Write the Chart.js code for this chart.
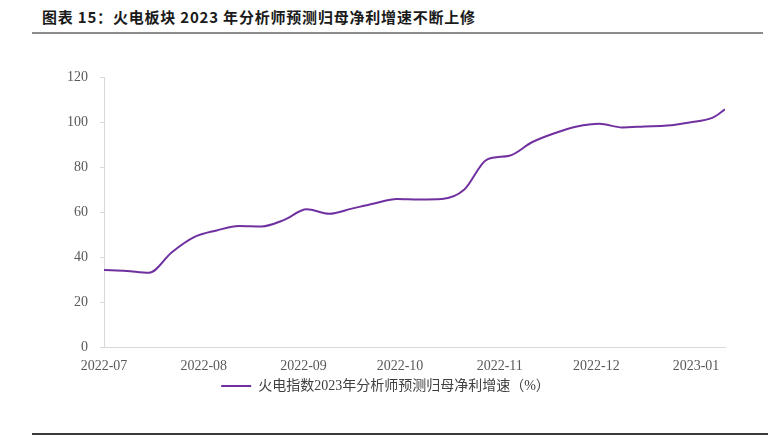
<!DOCTYPE html>
<html>
<head>
<meta charset="utf-8">
<script src="https://cdn.jsdelivr.net/npm/chart.js@4.4.0/dist/chart.umd.min.js"></script>
<style>
  html, body { margin: 0; padding: 0; background: #ffffff; }
  #wrap { position: relative; width: 779px; height: 438px; overflow: hidden; }
  #title { position: absolute; left: 42px; top: 7px; font-family: "Noto Sans CJK SC", sans-serif; font-weight: bold; font-size: 15px; letter-spacing: 0.8px; color: #1a1a1a; white-space: nowrap; line-height: 20px; }
  #rule1 { position: absolute; left: 32px; top: 32px; width: 731px; height: 2px; background: #8c8c8c; }
  #rule2 { position: absolute; left: 32px; top: 433px; width: 736px; height: 2px; background: #3a3a3a; }
  canvas { position: absolute; left: 0; top: 0; }
</style>
</head>
<body>
<div id="wrap">
  <div id="title">图表 15：火电板块 2023 年分析师预测归母净利增速不断上修</div>
  <div id="rule1"></div>
  <canvas id="c" width="779" height="438"></canvas>
  <div id="rule2"></div>
</div>
<script>
// ---- data ----
const seriesName = "火电指数2023年分析师预测归母净利增速（%）";
const dates = [
  "2022-07-01","2022-07-08","2022-07-15","2022-07-22","2022-07-29","2022-08-05",
  "2022-08-12","2022-08-19","2022-08-26","2022-09-02","2022-09-09","2022-09-16",
  "2022-09-23","2022-09-30","2022-10-07","2022-10-14","2022-10-21","2022-10-28",
  "2022-11-04","2022-11-11","2022-11-18","2022-11-25","2022-12-02","2022-12-09",
  "2022-12-16","2022-12-23","2022-12-30","2023-01-06","2023-01-10"
];
const values = [
  34.2, 33.8, 33.0, 42.0, 48.8, 51.8,
  53.8, 53.6, 56.5, 61.2, 59.2, 61.5,
  63.8, 65.8, 65.6, 65.8, 70.0, 83.3,
  85.0, 91.0, 95.0, 98.0, 99.2, 97.6,
  98.0, 98.4, 99.8, 101.8, 105.6
];
const monthTicks = ["2022-07","2022-08","2022-09","2022-10","2022-11","2022-12","2023-01"];
const yTicks = [0, 20, 40, 60, 80, 100, 120];

// ---- helpers ----
const DAY = 86400000;
function dayOffset(s) {
  const p = s.split("-").map(Number);
  const base = Date.UTC(2022, 6, 1);
  return (Date.UTC(p[0], p[1] - 1, p[2] || 1) - base) / DAY;
}
const points = dates.map((d, i) => ({ x: dayOffset(d), y: values[i] }));
const tickPos = monthTicks.map(m => dayOffset(m + "-01"));
const tickLabelAt = {};
tickPos.forEach((p, i) => tickLabelAt[p] = monthTicks[i]);

const purple = "#7030A0";
const tickFont = { family: "'Liberation Serif', 'Times New Roman', serif", size: 14 };

new Chart(document.getElementById("c"), {
  type: "line",
  data: {
    datasets: [{
      label: seriesName,
      data: points,
      borderColor: purple,
      backgroundColor: purple,
      borderWidth: 2,
      pointRadius: 0,
      cubicInterpolationMode: "monotone",
      fill: false
    }]
  },
  options: {
    responsive: false,
    animation: false,
    devicePixelRatio: 1,
    layout: { padding: { left: 46, right: 54, top: 77, bottom: 35 } },
    plugins: {
      title: { display: false },
      tooltip: { enabled: false },
      legend: {
        display: true,
        position: "bottom",
        labels: {
          usePointStyle: true,
          pointStyle: "line",
          pointStyleWidth: 30,
          boxHeight: 13,
          padding: 3,
          color: "#404040",
          font: { family: "'Liberation Serif', 'Noto Sans CJK SC', serif", size: 14 }
        }
      }
    },
    scales: {
      x: {
        type: "linear",
        min: 0,
        max: dayOffset(dates[dates.length - 1]),
        afterBuildTicks: (scale) => { scale.ticks = tickPos.map(v => ({ value: v })); },
        afterFit: (scale) => { scale.height = 29; },
        ticks: {
          autoSkip: false,
          maxRotation: 0,
          padding: 11,
          color: "#595959",
          font: tickFont,
          callback: (v) => tickLabelAt[v] || ""
        },
        grid: { display: true, drawOnChartArea: false, drawTicks: false },
        border: { display: true, color: "#d9d9d9", width: 1 }
      },
      y: {
        min: 0,
        max: 120,
        afterBuildTicks: (scale) => { scale.ticks = yTicks.map(v => ({ value: v })); },
        afterFit: (scale) => { scale.width = 58; },
        ticks: { padding: 12, color: "#595959", font: tickFont },
        grid: { display: true, drawOnChartArea: false, drawTicks: true, tickLength: 4, color: "#d9d9d9" },
        border: { display: true, color: "#d9d9d9", width: 1 }
      }
    }
  }
});
</script>
</body>
</html>
